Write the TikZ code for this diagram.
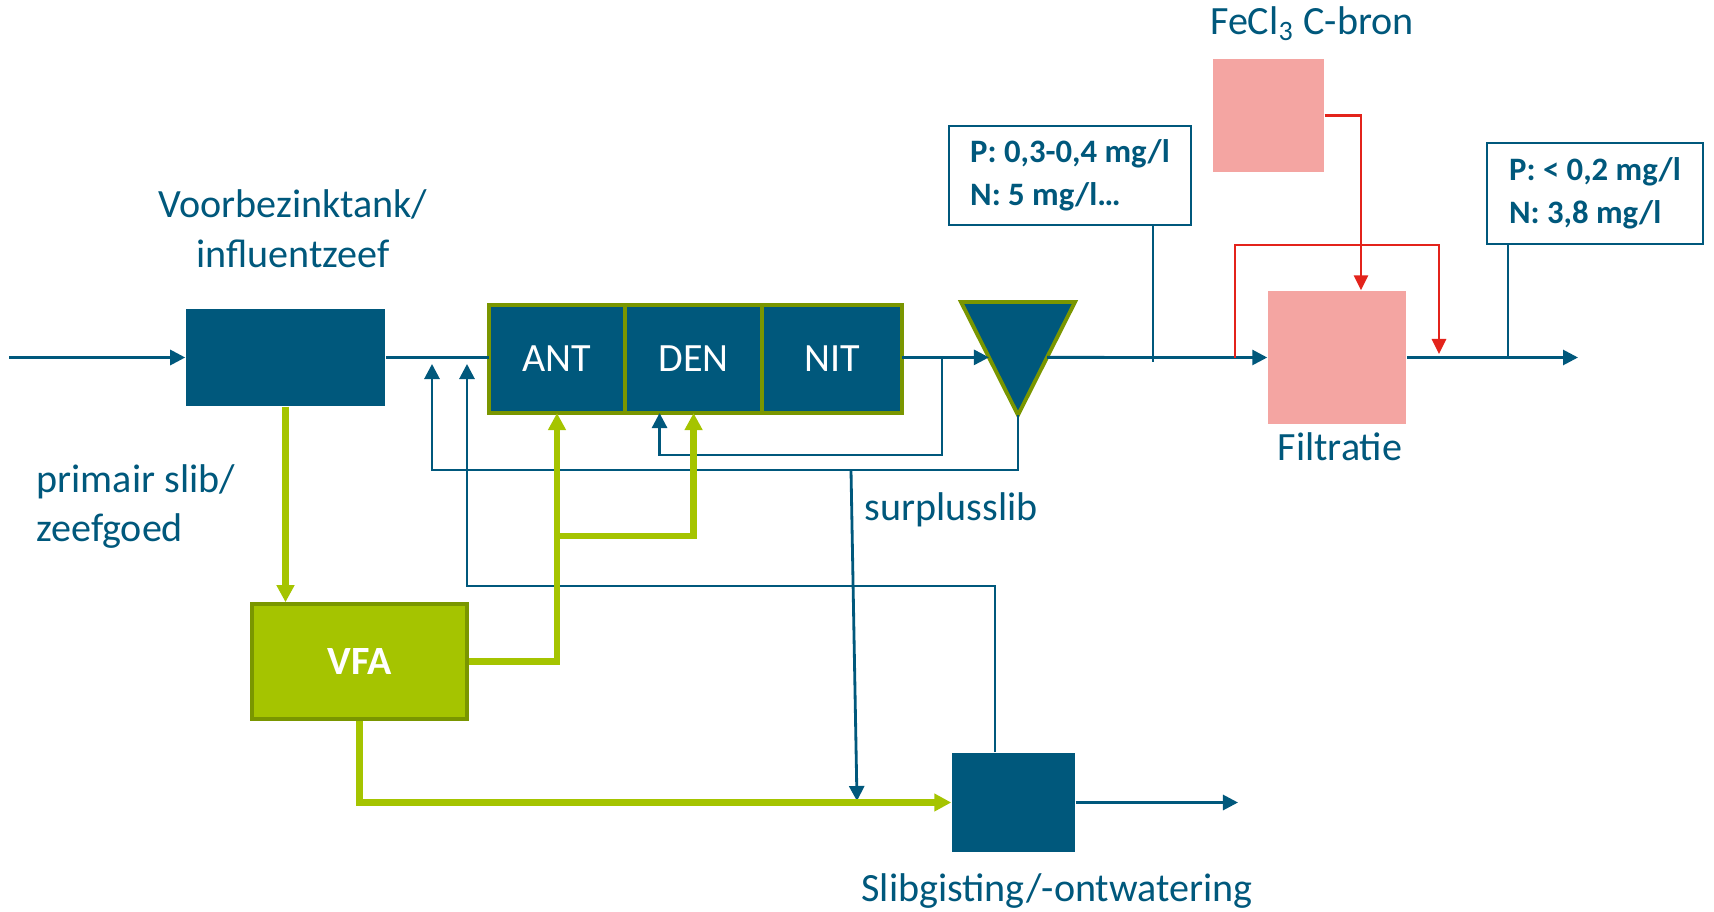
\documentclass[tikz,border=0pt]{standalone}
\usepackage{fontspec}
\setmainfont{Carlito}
\usepackage{tikz}
\usetikzlibrary{arrows.meta,calc,positioning}
\definecolor{petrol}{RGB}{0,88,124}
\definecolor{loof}{RGB}{165,196,0}
\definecolor{olijf}{RGB}{122,150,0}
\definecolor{zalm}{RGB}{244,165,162}
\definecolor{rood}{RGB}{227,35,27}

\begin{document}
\begin{tikzpicture}[x=0.01cm,y=-0.01cm,
  tekst/.style={text=petrol,font=\fontsize{11.4}{14.2}\selectfont,inner sep=0pt},
  tank/.style={fill=petrol,draw=none,inner sep=0pt},
  reactor/.style={fill=petrol,draw=olijf,line width=1.2pt,minimum height=1.08cm,inner sep=0pt,outer sep=0pt,text=white,font=\fontsize{11.4}{14.2}\selectfont},
  roze/.style={fill=zalm,draw=none,inner sep=0pt},
  meetbox/.style={draw=petrol,fill=white,line width=0.8pt,align=left,text=petrol,font=\fontsize{9.3}{12.2}\selectfont\bfseries},
  lijn/.style={draw=petrol,line width=0.8pt},
  stroom/.style={lijn,-{Triangle[length=0.15cm,width=0.15cm]}},
  groen/.style={draw=loof,line width=1.8pt,-{Triangle[length=0.17cm,width=0.17cm]}},
  roodpijl/.style={draw=rood,line width=0.8pt,-{Triangle[length=0.15cm,width=0.14cm]}}]
  \useasboundingbox (0,0) rectangle (1714,912);

  % voorbehandeling
  \node[tank,minimum width=1.99cm,minimum height=0.97cm] (vbt) at (285.5,357.5) {};
  \node[tekst,align=center] (vbtlabel) at (293,229) {Voorbezinktank/\\influentzeef};
  \coordinate (influent) at (9,357.5);
  \draw[stroom] (influent) -- (vbt.west);

  % biologie
  \node[reactor,minimum width=1.36cm] (ant) at (557,359) {ANT};
  \node[reactor,minimum width=1.37cm,right=0pt of ant] (den) {DEN};
  \node[reactor,minimum width=1.40cm,right=0pt of den] (nit) {NIT};
  \draw[lijn] (vbt.east) -- (vbt.east -| ant.west);

  % nabezinktank
  \draw[fill=petrol,draw=olijf,line width=1.1pt] (961,302) coordinate (nbl) -- (1075,302) coordinate (nbr) -- (1018,415) coordinate (nbtop) -- cycle;
  \coordinate (nbin) at ($(nbl)!0.49!(nbtop)$);
  \coordinate (nbout) at ($(nbr)!0.49!(nbtop)$);
  \draw[stroom] (nit.east |- nbin) -- (nbin);
  \coordinate (splits) at (942,357.5);
  \draw[stroom] (splits) -- (942,455) -| ([xshift=-0.34cm]den.south);

  % retourslib
  \coordinate (retour1) at (432,364);
  \coordinate (retour2) at (467,364);
  \draw[stroom] (nbtop) -- (1018,470) -| (retour1);

  % slibverwerking
  \node[tank,minimum width=1.23cm,minimum height=0.99cm] (gist) at (1013.5,802.5) {};
  \node[tekst] (gistlabel) at (1057,891) {Slibgisting/-ontwatering};
  \draw[stroom] ([xshift=-0.185cm]gist.north) |- (467,586) -- (retour2);
  \draw[stroom] (851,470) -- (857,801);
  \node[tekst,anchor=west] (surplus) at (864,510) {surplusslib};
  \coordinate (slibuit) at (1238,802.5);
  \draw[stroom] (gist.east) -- (slibuit);

  % VFA
  \node[fill=loof,draw=olijf,line width=1pt,minimum width=2.15cm,minimum height=1.15cm,text=white,font=\fontsize{11.4}{14.2}\selectfont\bfseries] (vfa) at (359.5,661.5) {VFA};
  \node[tekst,anchor=west,align=left] (primair) at (36,506.5) {primair slib/\\zeefgoed};
  \draw[groen] (vbt.south) -- (vbt.south |- vfa.north);
  \draw[groen] (vfa.east) -| (ant.south);
  \draw[groen] (ant.south |- 0,536) -| (den.south);
  \draw[groen] (vfa.south) |- (gist.west);

  % nabehandeling
  \node[meetbox,minimum width=2.42cm,minimum height=0.99cm] (meet1) at (1070,175.5) {P: 0,3-0,4 mg/l\\N: 5 mg/l\dots};
  \node[roze,minimum width=1.11cm,minimum height=1.13cm] (fecl) at (1268.5,115.5) {};
  \node[tekst] (fecllabel) at (1312,24) {FeCl\textsubscript{3} C-bron};
  \node[roze,minimum width=1.38cm,minimum height=1.33cm] (filt) at (1337,357.5) {};
  \node[tekst] (filtlabel) at (1340,447) {Filtratie};
  \node[meetbox,minimum width=2.16cm,minimum height=1.01cm] (meet2) at (1595,193.5) {P: < 0,2 mg/l\\N: 3,8 mg/l};
  \draw[stroom] (nbout) -- (filt.west);
  \coordinate (meetpunt1) at (1153,362);
  \draw[lijn] (meetpunt1 |- meet1.south) -- (meetpunt1);
  \draw[roodpijl] (fecl.east) -| ([xshift=0.24cm]filt.north);
  \coordinate (bypass) at (1235,357.5);
  \coordinate (bypassin) at (1439,354);
  \draw[roodpijl] (bypass) |- (1439,245) -- (bypassin);
  \coordinate (effluent) at (1578,357.5);
  \draw[stroom] (filt.east) -- (effluent);
  \coordinate (meetpunt2) at (1508,357.5);
  \draw[lijn] (meetpunt2 |- meet2.south) -- (meetpunt2);
\end{tikzpicture}
\end{document}
